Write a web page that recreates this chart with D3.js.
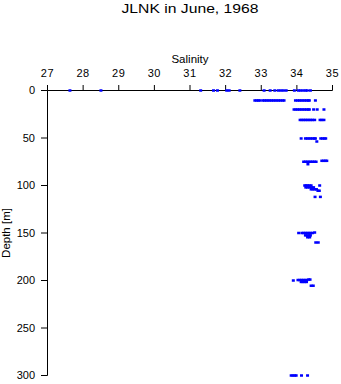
<!DOCTYPE html>
<html>
<head>
<meta charset="utf-8">
<script src="https://cdn.jsdelivr.net/npm/d3@7"></script>
<style>
  html, body { margin: 0; padding: 0; background: #fff; }
  svg { display: block; }
  text { font-family: "Liberation Sans", Arial, Helvetica, sans-serif; fill: #000; }
</style>
</head>
<body>
<svg id="chart" width="341" height="384"></svg>
<script>
// ---- data: [salinity, depth (m)] per sampling level ----
const level0 = [[27.63,0],[28.50,0],[31.30,0],[31.66,0],[31.77,0],[32.03,0],[32.10,0],[32.40,0],
  [33.08,0],[33.25,0],[33.38,0],[33.48,0],[33.55,0],[33.62,0],[33.70,0],[33.93,0],[34.04,0],
  [34.10,0],[34.17,0],[34.24,0],[34.29,0],[34.38,0]];
const level10 = [[32.82,10.5],[32.87,10.5],[32.92,10.5],[32.96,10.5],[33.04,10.5],[33.09,10.5],
  [33.14,10.5],[33.19,10.5],[33.24,10.5],[33.29,10.5],[33.34,10.5],[33.39,10.5],[33.44,10.5],
  [33.49,10.5],[33.54,10.5],[33.60,10.5],[33.64,10.5],[33.96,10.5],[34.02,10.5],[34.07,10.5],
  [34.12,10.5],[34.17,10.5],[34.22,10.5],[34.27,10.5],[34.32,10.5],[34.35,10.5],[34.52,10.5]];
const level20 = [[33.92,20],[33.97,20],[34.02,20],[34.07,20],[34.12,20],[34.17,20],[34.22,20],
  [34.27,20],[34.32,20],[34.35,20],[34.47,20],[34.57,20],[34.76,20]];
const level30 = [[34.09,31],[34.14,31],[34.19,31],[34.24,31],[34.29,31],[34.34,31],[34.39,31],
  [34.44,31],[34.50,31],[34.65,31],[34.70,31],[34.76,31]];
const level50 = [[34.12,50.5],[34.24,50.5],[34.29,50.5],[34.34,50.5],[34.39,50.5],[34.44,50.5],
  [34.49,50.5],[34.52,50.5],[34.67,50.5],[34.72,50.5],[34.77,50.5],[34.81,50.5],[34.56,53.7]];
const level75 = [[34.19,75],[34.24,75],[34.29,75],[34.34,75],[34.39,75],[34.44,75],[34.49,75],
  [34.54,75],[34.70,74],[34.75,74],[34.80,74],[34.84,74],[34.31,77.6]];
const level100 = [[34.22,100],[34.26,100],[34.30,100],[34.35,100],[34.40,100],[34.64,100],
  [34.25,102],[34.30,102],[34.36,102],[34.42,102],[34.47,102],[34.40,104],[34.45,104],
  [34.50,104],[34.55,104],[34.59,105.5],[34.63,105.5],[34.51,112],[34.66,112]];
const level150 = [[34.05,150],[34.14,150],[34.19,150],[34.24,150],[34.29,150],[34.34,150],
  [34.39,150],[34.44,150],[34.50,149.5],[34.24,152.5],[34.29,152.5],[34.34,152.5],[34.38,152.5],
  [34.30,154.5],[34.36,154.5],[34.53,160],[34.60,160]];
const level200 = [[33.90,200],[34.03,199.5],[34.08,199.5],[34.13,199.5],[34.18,199.5],
  [34.23,199.5],[34.28,199.5],[34.33,199],[34.37,199],[34.12,201.5],[34.17,201.5],[34.22,201.5],
  [34.27,201.5],[34.40,205.5],[34.46,205.5]];
const level300 = [[33.84,300],[33.89,300],[33.94,300],[33.98,300],[34.13,300],[34.30,300]];

const salinityTicks = [27,28,29,30,31,32,33,34,35];
const depthTicks = [0,50,100,150,200,250,300];
const titleText = "JLNK in June, 1968";
const xLabel = "Salinity";
const yLabel = "Depth [m]";

const points = [].concat(level0, level10, level20, level30, level50, level75,
                         level100, level150, level200, level300);

// ---- drawing ----
const svg = d3.select("#chart");
const x = d3.scaleLinear().domain([27, 35]).range([47, 332]);
const y = d3.scaleLinear().domain([0, 300]).range([90, 375]);

svg.append("text")
  .attr("x", 190).attr("y", 13)
  .attr("text-anchor", "middle")
  .attr("font-size", 13)
  .attr("textLength", 137)
  .attr("lengthAdjust", "spacingAndGlyphs")
  .text(titleText);

const gx = svg.append("g")
  .attr("transform", "translate(0,90)")
  .call(d3.axisTop(x).tickValues(salinityTicks).tickFormat(d3.format("d"))
        .tickSize(5).tickSizeOuter(5).tickPadding(8));
const gy = svg.append("g")
  .attr("transform", "translate(47,0)")
  .call(d3.axisLeft(y).tickValues(depthTicks).tickFormat(d3.format("d"))
        .tickSize(6).tickSizeOuter(6).tickPadding(6));

[gx, gy].forEach(g => {
  g.attr("font-family", null).attr("font-size", null);
  g.selectAll("path, line").attr("stroke", "#000").attr("stroke-width", 1);
  g.selectAll("text").attr("font-size", 11).attr("fill", "#000");
});
gx.selectAll("text").attr("letter-spacing", 0.6);

svg.append("text")
  .attr("x", 190).attr("y", 63)
  .attr("text-anchor", "middle")
  .attr("font-size", 11.5)
  .text(xLabel);

svg.append("text")
  .attr("transform", "translate(10,233) rotate(-90)")
  .attr("text-anchor", "middle")
  .attr("font-size", 11.5)
  .text(yLabel);

svg.append("g").selectAll("rect")
  .data(points)
  .join("rect")
  .attr("x", d => x(d[0]) - 1.5 + 0.5)
  .attr("y", d => y(d[1]) - 1.25 + 0.5)
  .attr("width", 3)
  .attr("height", 2.5)
  .attr("fill", "#0000ff");
</script>
</body>
</html>
